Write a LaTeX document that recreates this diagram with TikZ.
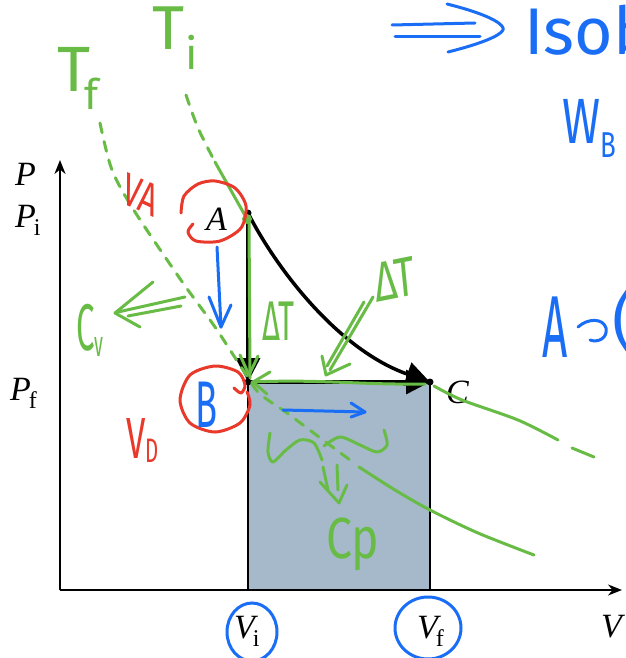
\documentclass[tikz,border=0pt]{standalone}
\usepackage{fontspec}
\setmainfont{Liberation Serif}
\newfontfamily\hand{Fira Sans}
\usetikzlibrary{arrows.meta}
\definecolor{gr}{HTML}{68BC45}
\definecolor{rd}{HTML}{E8392A}
\definecolor{bl}{HTML}{1A6EF5}
\definecolor{fillc}{HTML}{A5B9CB}
\newcommand\hsz[1]{\fontsize{#1}{#1}\selectfont}
\begin{document}
\begin{tikzpicture}[x=1pt,y=-1pt,
 hw/.style={line width=3pt, line cap=round, line join=round},
 hdash/.style={hw, dash pattern=on 10pt off 9pt},
 lbl/.style={inner sep=0, anchor=base west},
 hand/.style={inner sep=0, anchor=base west},
 proc/.style={line width=3.5pt, -{Triangle[length=24pt,width=24pt]}},
 axis/.style={line width=2pt, -{Stealth[length=14pt,width=11pt]}}]
\clip (0,0) rectangle (625,658);
\fill[white] (0,0) rectangle (625,658);
% key points
\coordinate (O) at (60,590);
\coordinate (yt) at (60,160);
\coordinate (xt) at (622,590);
\coordinate (A) at (248,213);
\coordinate (B) at (248,382);
\coordinate (C) at (430,382);
% work area
\draw[fill=fillc, line width=2pt] (B) rectangle (430,590);
% axes
\draw[axis] (O) -- (yt);
\draw[axis] (O) -- (xt);
% processes
\draw[proc] (A) -- (B);
\draw[proc] (B) -- (C);
\draw[proc] (A) .. controls (276,268) and (338,350) .. (C);
\fill (A) circle (3.5);
\fill (B) circle (3.5);
\fill (C) circle (3.5);
% black labels
\node[lbl, font=\hsz{34}] (lP) at (15,185) {\itshape P};
\node[lbl, font=\hsz{34}] (lPi) at (15,227) {{\itshape P}\kern-2pt\raisebox{-8pt}{\hsz{24}i}};
\node[lbl, font=\hsz{34}] (lPf) at (10,400) {{\itshape P}\kern-2pt\raisebox{-8pt}{\hsz{24}f}};
\node[lbl, font=\hsz{34}] (lA) at (206,230) {\itshape A};
\node[lbl, font=\hsz{34}] (lC) at (446,403) {\itshape C};
\node[lbl, font=\hsz{34}] (lVi) at (234,638) {{\itshape V}\kern-2pt\raisebox{-8pt}{\hsz{24}i}};
\node[lbl, font=\hsz{34}] (lVf) at (417,638) {{\itshape V}\kern-2pt\raisebox{-8pt}{\hsz{24}f}};
\node[lbl, font=\hsz{34}] (lV) at (601,637) {\itshape V};

% ---------- green annotations ----------
\begin{scope}[gr]
% Ti isotherm
\draw[hdash] plot[smooth] coordinates {(186,95) (198,128) (215,162)};
\draw[hw] (215,162) -- (247,219);
\fill (247,219) circle (5);
\draw[hw] (249,219) -- (250,378);
\draw[hw] (240,355) -- (249,375) -- (258,356);
\draw[hw] (252,382) .. controls (320,379) and (360,385) .. (425,384);
\draw[hw] (270,372) -- (253,382) -- (267,394);
\draw[hw] plot[smooth] coordinates {(434,386) (462,400) (518,420) (558,440)};
\draw[hw] (572,448) -- (594,457);
% Tf isotherm
\draw[hdash] plot[smooth] coordinates {(100,123) (112,170) (135,212) (183,283) (215,327) (243,370) (259,393) (287,413) (319,437) (350,460)};
\draw[hw] plot[smooth] coordinates {(359,467) (395,490) (430,510) (478,533) (534,555)};
% labels
\node[hand, font={\hand\hsz{62}}] (Ti) at (152,50) {T\kern1pt\raisebox{-20pt}{\hsz{44}i}};
\node[hand, font={\hand\hsz{64}}] (Tf) at (57,92) {T\kern-6pt\raisebox{-18pt}{\hsz{42}f}};
\node[hand, font={\hand\hsz{56}}, xscale=0.55] (dT1) at (262,340) {ΔT};
\node[hand, font={\hand\hsz{56}}, xscale=0.7, rotate=8] (dT2) at (376,303) {ΔT};
\node[hand, font={\hand\hsz{66}}, xscale=0.5] (Cv) at (76,350) {C\raisebox{-6pt}{\hsz{36}v}};
\node[hand, font={\hand\hsz{58}}, xscale=0.8] (Cp) at (326,558) {Cp};
% arrows
\draw[hw] (185,297) -- (118,312);
\draw[hw] (181,306) -- (128,316);
\draw[hw] (153,282) -- (115,313) -- (140,327);
\draw[hw] (373,297) -- (330,370);
\draw[hw] (364,302) -- (327,366);
\draw[hw] (322,356) -- (326,375) -- (350,364);
\draw[hw] plot[smooth] coordinates {(270,433) (268,452) (273,462) (286,450) (300,440) (314,443) (322,460)};
\draw[hw] plot[smooth] coordinates {(324,446) (340,437) (360,445) (377,452) (387,445) (384,430)};
\draw[hw] (323,467) -- (328,490);
\draw[hw] (337,465) -- (338,490);
\draw[hw] (320,482) -- (339,503) -- (347,485);
\end{scope}

% ---------- red annotations ----------
\begin{scope}[rd]
\draw[hw] plot[smooth] coordinates {(181,213) (184,196) (198,184) (215,181) (235,188) (246,206) (241,228) (220,241) (196,241) (188,232) (193,224)};
\draw[hw] plot[smooth] coordinates {(234,388) (241,393) (245,385) (238,372) (215,366) (190,375) (180,400) (190,423) (215,432) (240,423) (250,405) (247,392)};
\node[hand, font={\hand\hsz{46}}, xscale=0.7, rotate=-18] (VA) at (120,202) {VA};
\node[hand, font={\hand\hsz{58}}, xscale=0.6] (VD) at (126,458) {V\raisebox{-4pt}{\hsz{34}D}};
\end{scope}

% ---------- blue annotations ----------
\begin{scope}[bl]
\node[hand, font={\hand\hsz{66}}, xscale=0.55] (Bl) at (195,427) {B};
\draw[hw] (217,247) -- (221,327);
\draw[hw] (209,297) -- (221,327) -- (231,305);
\draw[hw] (283,410) -- (365,412);
\draw[hw] (351,403) -- (365,412) -- (351,417);
\draw[line width=3pt, line cap=round] (252,632) ellipse (25 and 29);
\draw[line width=3pt, line cap=round] (428,628) ellipse (33 and 31);
% top right
\draw[hw] (392,25) -- (475,23);
\draw[hw] (395,37) -- (480,37);
\draw[hw] (447,4) .. controls (495,16) and (505,26) .. (503,30) .. controls (500,36) and (480,44) .. (448,52);
\node[hand, font={\hand\hsz{66}}] (Isob) at (524,55) {Isob};
\node[hand, font={\hand\hsz{64}}, xscale=0.72] (W) at (562,143) {W\raisebox{-14pt}{\hsz{36}B}};
\node[hand, font={\hand\hsz{88}}, xscale=0.5] (AC) at (542,357) {A};
\draw[hw] (578,327) .. controls (588,318) and (603,318) .. (606,328) .. controls (608,338) and (598,343) .. (590,340);
\node[hand, font={\hand\hsz{64}}] (par) at (612,343) {(};
\end{scope}
\end{tikzpicture}
\end{document}
